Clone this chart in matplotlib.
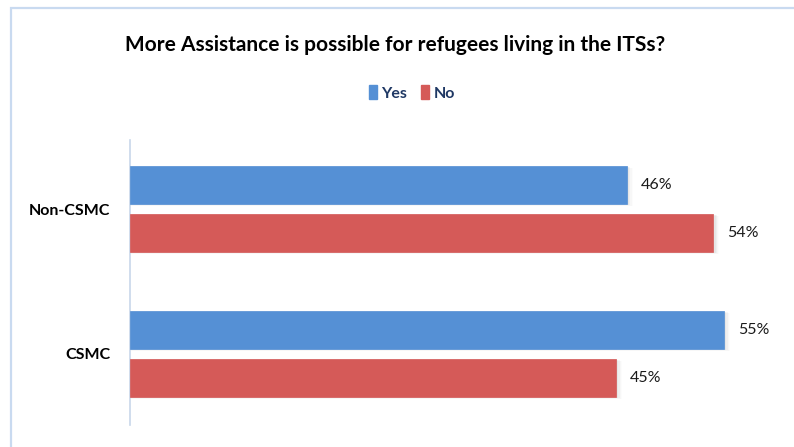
import matplotlib
matplotlib.use("Agg")
import matplotlib.pyplot as plt
from matplotlib.patches import Rectangle
import numpy as np

categories = ["CSMC", "Non-CSMC"]
series_names = ["Yes", "No"]
yes_values = [0.55, 0.46]
no_values = [0.45, 0.54]

blue = "#5590D5"
red = "#D55A58"
navy = "#1F3864"

plt.rcParams["font.family"] = ["Lato", "DejaVu Sans"]

W, H = 794, 447
fig = plt.figure(figsize=(W / 100, H / 100), dpi=100)
fig.patch.set_facecolor("white")

# chart frame (left and top edges visible)
fig.patches.append(Rectangle((11 / W, -0.1), 1.2, (447 - 8) / H + 0.1,
                             transform=fig.transFigure, fill=False,
                             edgecolor="#C9DAF0", linewidth=1.6))

ax = fig.add_axes([130 / W, 22 / H, 648 / W, 285 / H])
ax.set_xlim(0, 0.6)
ax.set_ylim(-0.49, 1.476)

y = np.arange(len(categories))
h = 38 / 145
off = 24 / 145

def draw(vals, pos, color, label):
    # soft drop shadow beneath each bar
    for k, a in zip(range(1, 6), [0.10, 0.08, 0.06, 0.04, 0.025]):
        d = k * 0.0011
        ax.barh(pos - d * 3, [v + d for v in vals], height=h, left=0.0,
                color="#808080", alpha=a, linewidth=0, zorder=1)
    bars = ax.barh(pos, vals, height=h, color=color, label=label, zorder=3,
                   edgecolor=color, linewidth=0.5)
    for b, v in zip(bars, vals):
        ax.text(b.get_width() + 0.013, b.get_y() + b.get_height() / 2,
                f"{round(v * 100)}%", va="center", ha="left",
                fontsize=11.5, color="#1a1a1a", zorder=4)
    return bars

draw(yes_values, y + off, blue, series_names[0])
draw(no_values, y - off, red, series_names[1])

for s in ["top", "right", "bottom"]:
    ax.spines[s].set_visible(False)
ax.spines["left"].set_color("#C8D7EA")
ax.spines["left"].set_linewidth(1.2)
ax.set_xticks([])
ax.set_yticks(y)
ax.set_yticklabels(categories, fontsize=11.5, fontweight="bold")
ax.tick_params(axis="y", length=0, pad=14)

fig.text(395 / W, 1 - 45 / H,
         "More Assistance is possible for refugees living in the ITSs?",
         ha="center", va="center", fontsize=15, fontweight="bold", color="black")

leg = fig.legend(handles=[Rectangle((0, 0), 1, 1, color=blue),
                          Rectangle((0, 0), 1, 1, color=red)],
                 labels=series_names, loc="center", bbox_to_anchor=(412 / W, 1 - 93 / H),
                 ncol=2, frameon=False, handlelength=0.5, handleheight=0.9,
                 handletextpad=0.25, columnspacing=0.9,
                 prop={"weight": "bold", "size": 11.5})
for t in leg.get_texts():
    t.set_color(navy)

fig.savefig("out.png", dpi=100)
